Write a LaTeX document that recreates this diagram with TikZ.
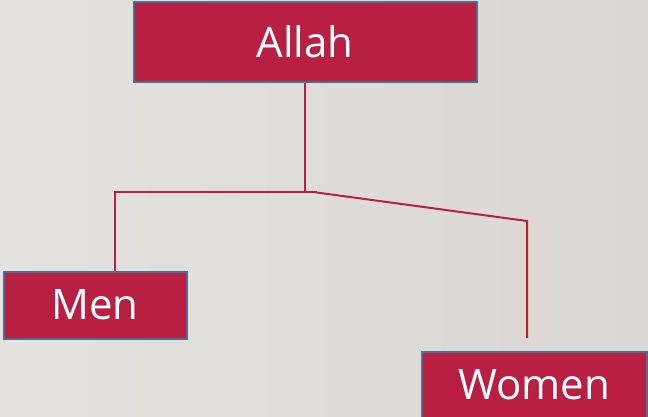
\documentclass[tikz,border=0pt]{standalone}
\usepackage{fontspec}
\setmainfont{Open Sans}
\definecolor{boxred}{HTML}{B91F43}
\definecolor{boxedge}{HTML}{4A6F94}
\definecolor{bgtop}{HTML}{E4E2DE}
\definecolor{bgbot}{HTML}{DAD7D2}
\begin{document}
\begin{tikzpicture}[x=1pt,y=-1pt,
  box/.style={draw=boxedge,line width=2pt,fill=boxred,text=white,font=\fontsize{42}{48}\selectfont,inner sep=0pt},
  link/.style={draw=boxred,line width=2pt}]
\fill[left color=bgtop,right color=bgbot] (0,0) rectangle (648,417);
\useasboundingbox (0,0) rectangle (648,417);
\node[box,minimum width=343,minimum height=80] (allah) at (305,42) {Allah};
\node[box,minimum width=183,minimum height=67] (men) at (95,305) {Men};
\node[box,minimum width=225,minimum height=66] (women) at (534,385) {Women};
\coordinate (j) at (allah.south |- 0,192);
\coordinate (jr) at (317,192);
\coordinate (mt) at (115,271);
\coordinate (ml) at (115,192);
\coordinate (js) at (313,192);
\coordinate (wr) at (527,221);
\coordinate (wb) at (527,338);
\draw[link] (allah.south) -- (j);
\draw[link] (mt) -- (ml) -- (jr);
\draw[link] (js) -- (wr) -- (wb);
\end{tikzpicture}
\end{document}
